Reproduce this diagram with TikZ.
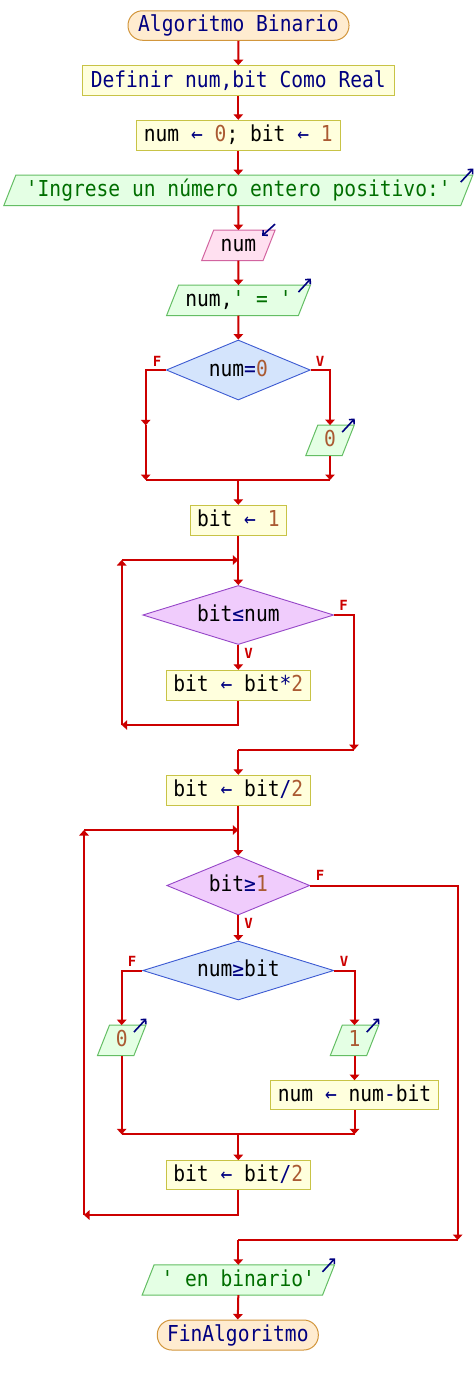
\documentclass[tikz,border=0pt]{standalone}
\usepackage{fontspec}
\usepackage{graphicx}
\setmonofont{DejaVu Sans Mono}
\usetikzlibrary{arrows.meta,shapes.geometric,backgrounds,calc}
\definecolor{lnred}{RGB}{204,0,0}
\definecolor{kwc}{RGB}{0,0,128}
\definecolor{numc}{RGB}{170,90,50}
\definecolor{strc}{RGB}{0,110,0}
\definecolor{boxfill}{RGB}{255,255,221}
\definecolor{boxbd}{RGB}{200,195,70}
\definecolor{termfill}{RGB}{255,236,208}
\definecolor{termbd}{RGB}{210,150,60}
\definecolor{iofill}{RGB}{228,255,228}
\definecolor{iobd}{RGB}{100,190,100}
\definecolor{infill}{RGB}{255,224,240}
\definecolor{inbd}{RGB}{210,100,160}
\definecolor{dbfill}{RGB}{212,228,252}
\definecolor{dbbd}{RGB}{60,90,210}
\definecolor{dvfill}{RGB}{240,204,252}
\definecolor{dvbd}{RGB}{150,70,200}
\newcommand\tx[1]{\scalebox{1}[1.12]{#1}}
\newcommand\cKw[1]{\textcolor{kwc}{#1}}
\newcommand\cNum[1]{\textcolor{numc}{#1}}
\newcommand\cStr[1]{\textcolor{strc}{#1}}
\newcommand\cOp[1]{\textcolor{kwc}{#1}}
\pgfdeclarelayer{back0}
\pgfsetlayers{back0,background,main}
\newcommand\paral[2]{%
  \begin{scope}[on background layer]
  \draw[#2] ([xshift=-6pt]#1.south west) -- ([xshift=6pt]#1.north west) -- ([xshift=6pt]#1.north east) -- ([xshift=-6pt]#1.south east) -- cycle;
  \end{scope}}
\newcommand\outicon[1]{\draw[icon] ($(#1.north east)+(-6,7)$) -- ($(#1.north east)+(6.5,-6.5)$);}
\newcommand\inicon[1]{\draw[icon] ($(#1.north east)+(6,-6)$) -- ($(#1.north east)+(-7,5.7)$);}
\tikzset{
  base/.style={font=\ttfamily\fontsize{19.6}{22}\selectfont, inner sep=0pt, text height=16.5pt, text depth=3.8pt},
  proc/.style={base, draw=boxbd, fill=boxfill, line width=1pt, minimum height=30},
  term/.style={base, draw=termbd, fill=termfill, line width=1pt, rounded corners=14.5, minimum height=29.5},
  iobox/.style={base, minimum height=30},
  outpara/.style={draw=iobd, fill=iofill, line width=1pt},
  inpara/.style={draw=inbd, fill=infill, line width=1pt},
  decb/.style={base, diamond, aspect=3.2, draw=dbbd, fill=dbfill, line width=0.9pt},
  decv/.style={base, diamond, aspect=3.2, draw=dvbd, fill=dvfill, line width=0.9pt},
  conn/.style={draw=lnred, line width=2pt},
  arr/.style={conn, -{Triangle[width=9.5pt,length=5.5pt]}},
  icon/.style={draw=kwc, line width=1.6pt, -{Straight Barb[length=3.5pt,width=7pt]}},
  lab/.style={text=lnred, inner sep=0pt, font=\ttfamily\bfseries\fontsize{14}{14}\selectfont},
}
\begin{document}
\begin{tikzpicture}[x=1pt,y=-1pt]
\begin{pgfonlayer}{back0}
\fill[white] (0,0) rectangle (476,1385);
\end{pgfonlayer}
\useasboundingbox (0,0) rectangle (476,1385);

% nodes
\node[term, minimum width=221] (start) at (238.5,25.5) {\tx{\cKw{Algoritmo Binario}}};
\node[proc, minimum width=312] (def) at (238.3,80.7) {\tx{\cKw{Definir num,bit Como Real}}};
\node[proc, minimum width=204] (as1) at (238.3,135.3) {\tx{num \cOp{←} \cNum{0}; bit \cOp{←} \cNum{1}}};
\node[iobox, minimum width=456.5] (out1) at (238.3,190.3) {\tx{\cStr{'Ingrese un número entero positivo:'}}};
\paral{out1}{outpara}
\node[iobox, minimum width=61] (in1) at (238.4,245.3) {\tx{num}};
\paral{in1}{inpara}
\node[iobox, minimum width=131.4] (out2) at (238.5,300.3) {\tx{num,\cStr{' = '}}};
\paral{out2}{outpara}
\node[decb, minimum width=144, minimum height=60] (d1) at (238.3,370) {\tx{num\cOp{=}\cNum{0}}};
\node[iobox, minimum width=36] (o0a) at (330,440.3) {\tx{\cNum{0}}};
\paral{o0a}{outpara}
\node[proc, minimum width=96] (bit1) at (238.3,520.3) {\tx{bit \cOp{←} \cNum{1}}};
\node[decv, minimum width=191, minimum height=59] (d2) at (238.3,615) {\tx{bit\cOp{≤}num}};
\node[proc, minimum width=144] (mul) at (238.3,685.3) {\tx{bit \cOp{←} bit\cOp{*}\cNum{2}}};
\node[proc, minimum width=144] (div1) at (238.3,790.3) {\tx{bit \cOp{←} bit\cOp{/}\cNum{2}}};
\node[decv, minimum width=143, minimum height=59] (d3) at (238.3,885.5) {\tx{bit\cOp{≥}\cNum{1}}};
\node[decb, minimum width=191, minimum height=59] (d4) at (238.3,970.5) {\tx{num\cOp{≥}bit}};
\node[iobox, minimum width=36] (o0b) at (121.7,1040.3) {\tx{\cNum{0}}};
\paral{o0b}{outpara}
\node[iobox, minimum width=36] (o1) at (354.5,1040.3) {\tx{\cNum{1}}};
\paral{o1}{outpara}
\node[proc, minimum width=168, minimum height=29.3] (sub) at (354.5,1095.3) {\tx{num \cOp{←} num\cOp{-}bit}};
\node[proc, minimum width=144, minimum height=29.3] (div2) at (238.3,1175.3) {\tx{bit \cOp{←} bit\cOp{/}\cNum{2}}};
\node[iobox, minimum width=180] (outb) at (238.3,1280) {\tx{\cStr{' en binario'}}};
\paral{outb}{outpara}
\node[term, minimum width=161, minimum height=30] (end) at (237.8,1335) {\tx{\cKw{FinAlgoritmo}}};

% output / input icons
\outicon{out1}
\inicon{in1}
\outicon{out2}
\outicon{o0a}
\outicon{o0b}
\outicon{o1}
\outicon{outb}

% branch labels
\node[lab] (d1F) at (157,361) {F};
\node[lab] (d1V) at (320,361) {V};
\node[lab] (d2F) at (343.5,605) {F};
\node[lab] (d2V) at (248.5,653.5) {V};
\node[lab] (d3F) at (320,875.5) {F};
\node[lab] (d3V) at (248.5,923.5) {V};
\node[lab] (d4F) at (132,961) {F};
\node[lab] (d4V) at (344,961) {V};

% coordinates
\coordinate (d1Lm) at (145.7,425.3);
\coordinate (j1L) at (145.7,480);
\coordinate (j1R) at (330,480);
\coordinate (j1M) at (238.3,480);
\coordinate (l1T) at (121.7,560);
\coordinate (l1B) at (121.7,725);
\coordinate (l1M) at (238.3,560);
\coordinate (f2) at (354,750);
\coordinate (j2M) at (238.3,750);
\coordinate (j3L) at (121.7,1134.3);
\coordinate (j3R) at (354.5,1134.3);
\coordinate (j3M) at (238.3,1134.3);
\coordinate (l2B) at (84,1215);
\coordinate (l2T) at (84,830);
\coordinate (l2M) at (238.3,830);
\coordinate (f3) at (457.7,1240);
\coordinate (j4M) at (238.3,1240);

% connectors
\draw[arr] (start.south) -- (def.north);
\draw[arr] (def.south) -- (as1.north);
\draw[arr] (as1.south) -- (out1.north);
\draw[arr] (out1.south) -- (in1.north);
\draw[arr] (in1.south) -- (out2.north);
\draw[arr] (out2.south) -- (d1.north);
\draw[arr] (d1.west) -| (d1Lm);
\draw[arr] (d1Lm) -- (j1L);
\draw[arr] (d1.east) -| (o0a.north);
\draw[arr] (o0a.south) -- (j1R);
\draw[conn] (j1L) -- (j1R);
\draw[arr] (j1M) -- (bit1.north);
\draw[arr] (bit1.south) -- (d2.north);
\draw[arr] (d2.south) -- (mul.north);
\draw[arr] (mul.south) |- (l1B);
\draw[arr] (l1B) -- (l1T);
\draw[arr] (l1T) -- (l1M);
\draw[arr] (d2.east) -| (f2);
\draw[conn] (f2) -- (j2M);
\draw[arr] (j2M) -- (div1.north);
\draw[arr] (div1.south) -- (d3.north);
\draw[arr] (d3.south) -- (d4.north);
\draw[arr] (d4.west) -| (o0b.north);
\draw[arr] (d4.east) -| (o1.north);
\draw[arr] (o1.south) -- (sub.north);
\draw[arr] (o0b.south) -- (j3L);
\draw[arr] (sub.south) -- (j3R);
\draw[conn] (j3L) -- (j3R);
\draw[arr] (j3M) -- (div2.north);
\draw[arr] (div2.south) |- (l2B);
\draw[arr] (l2B) -- (l2T);
\draw[arr] (l2T) -- (l2M);
\draw[arr] (d3.east) -| (f3);
\draw[conn] (f3) -- (j4M);
\draw[arr] (j4M) -- (outb.north);
\draw[arr] (outb.south) -- (end.north);
\end{tikzpicture}
\end{document}
